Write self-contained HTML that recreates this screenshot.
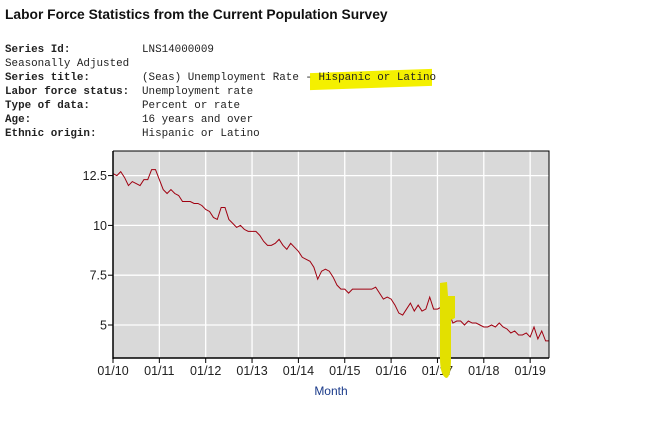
<!DOCTYPE html>
<html><head><meta charset="utf-8"><style>
body{margin:0;background:#fff;width:648px;height:447px;overflow:hidden;position:relative;font-family:"Liberation Sans",sans-serif}
.t{position:absolute;left:5px;top:7px;font-weight:bold;font-size:13.8px;color:#111}
.m{position:absolute;font-family:"Liberation Mono",monospace;font-size:10.9px;color:#222;white-space:pre;line-height:14px}
.hl{position:absolute;background:#f4f000}
</style></head><body>
<div class="hl" style="left:310px;top:71px;width:122px;height:17px;transform:skewY(-2deg)"></div>
<div class="t">Labor Force Statistics from the Current Population Survey</div>
<div class="m" style="left:5px;top:43px"><b>Series Id:</b>
Seasonally Adjusted
<b>Series title:</b>
<b>Labor force status:</b>
<b>Type of data:</b>
<b>Age:</b>
<b>Ethnic origin:</b></div>
<div class="m" style="left:142px;top:43px">LNS14000009

(Seas) Unemployment Rate - Hispanic or Latino
Unemployment rate
Percent or rate
16 years and over
Hispanic or Latino</div>
<svg id="c" width="648" height="447" style="position:absolute;left:0;top:0"></svg>
<script>
const yTicks=[5,7.5,10,12.5];
const xTickLabels=["01/10","01/11","01/12","01/13","01/14","01/15","01/16","01/17","01/18","01/19"];
const rates=[
12.6,12.5,12.7,12.4,12.0,12.2,12.1,12.0,12.3,12.3,12.8,12.8,
12.3,11.8,11.6,11.8,11.6,11.5,11.2,11.2,11.2,11.1,11.1,11.0,
10.8,10.7,10.4,10.3,10.9,10.9,10.3,10.1,9.9,10.0,9.8,9.7,
9.7,9.7,9.5,9.2,9.0,9.0,9.1,9.3,9.0,8.8,9.1,8.9,
8.7,8.4,8.3,8.2,7.9,7.3,7.7,7.8,7.7,7.4,7.0,6.8,
6.8,6.6,6.8,6.8,6.8,6.8,6.8,6.8,6.9,6.6,6.3,6.4,
6.3,6.0,5.6,5.5,5.8,6.1,5.7,6.0,5.7,5.8,6.4,5.8,
5.8,5.9,5.8,5.6,5.1,5.2,5.2,5.0,5.2,5.1,5.1,5.0,
4.9,4.9,5.0,4.9,5.1,4.9,4.8,4.6,4.7,4.5,4.5,4.6,
4.4,4.9,4.3,4.7,4.2,4.2];
const X0=113,X1=549,Y0=151,Y1=358;
const xs=m=>X0+m*(46.35/12);
const ys=v=>325-(v-5)*(49.8/2.5);
const svg=document.getElementById('c');const NS='http://www.w3.org/2000/svg';
function mk(t,a,p){const e=document.createElementNS(NS,t);for(const k in a)e.setAttribute(k,a[k]);(p||svg).appendChild(e);return e;}
const bg=mk('rect',{x:X0,y:Y0,width:X1-X0,height:Y1-Y0,fill:'#d9d9d9'});


yTicks.forEach(v=>{const y=ys(v);
const g=mk('line',{x1:X0,x2:X1,y1:y,y2:y,stroke:'#fff','stroke-width':1.3});


mk('line',{x1:X0-5,x2:X0,y1:y,y2:y,stroke:'#000'});
const t=mk('text',{x:X0-6,y:y+4.5,'text-anchor':'end','font-size':12.5,fill:'#222','font-family':'Liberation Sans'});t.textContent=v;

});
xTickLabels.forEach((l,i)=>{const x=xs(i*12);
if(i>0){const g=mk('line',{x1:x,x2:x,y1:Y0,y2:Y1,stroke:'#fff','stroke-width':1.3});

}
mk('line',{x1:x,x2:x,y1:Y1,y2:Y1+5,stroke:'#000'});
const t=mk('text',{x:x,y:375,'text-anchor':'middle','font-size':12.5,fill:'#222','font-family':'Liberation Sans'});t.textContent=l;

});
const line=mk('polyline',{points:rates.map((v,i)=>xs(i)+','+ys(v)).join(' '),fill:'none',stroke:'#a00010','stroke-width':1});


mk('polyline',{points:`${X0},${Y0} ${X1},${Y0} ${X1},${Y1}`,fill:'none',stroke:'#000','stroke-width':1});
mk('line',{x1:X0,x2:X0,y1:Y0,y2:Y1+1,stroke:'#000','stroke-width':1.5});
mk('line',{x1:X0,x2:X1,y1:Y1,y2:Y1,stroke:'#000','stroke-width':1.5});
const h1=mk('path',{d:'M440,358 L440,283 L447,282 L448,296 L455,296 L455,318 L451,320 L451,358 Q451,378 446,378 Q440,375 440,358Z',fill:'#e3e000'});


const xt=mk('text',{x:331,y:395,'text-anchor':'middle','font-size':12,fill:'#1a3a8a','font-family':'Liberation Sans'});xt.textContent='Month';


</script>
</body></html>
